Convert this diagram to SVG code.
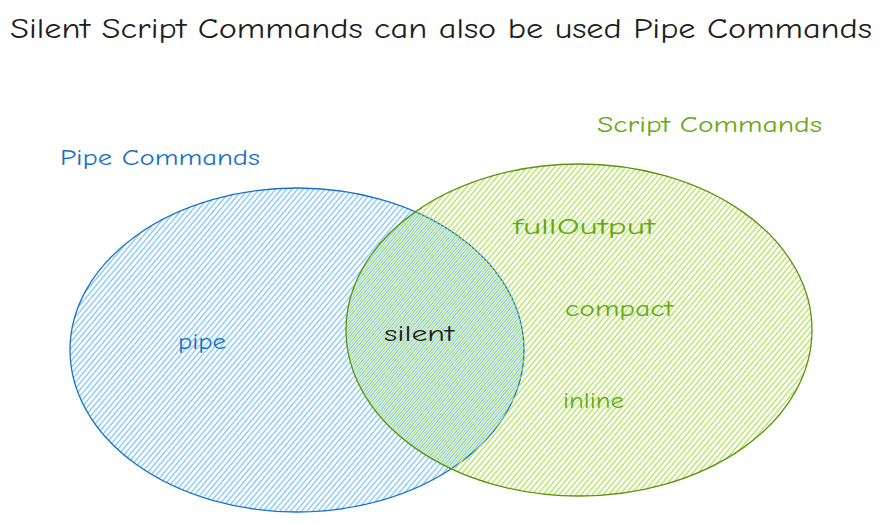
<svg xmlns="http://www.w3.org/2000/svg" width="883" height="523" viewBox="0 0 883 523">
<defs>
<pattern id="hBlue" width="4.2" height="10" patternUnits="userSpaceOnUse" patternTransform="rotate(40)">
<line x1="1" y1="0" x2="1" y2="10" stroke="#74c0fc" stroke-width="1.2"/>
</pattern>
<pattern id="hGreen" width="4.2" height="10" patternUnits="userSpaceOnUse" patternTransform="rotate(40) translate(2.1 0)">
<line x1="1" y1="0" x2="1" y2="10" stroke="#a9e34b" stroke-width="1.2"/>
</pattern>
</defs>
<style>
text{font-family:"Comic Neue","Liberation Sans","DejaVu Sans",sans-serif;}
.t{font-size:28px;fill:#1e1e1e;}
.lb{font-size:22px;fill:#1971c2;}
.lg{font-size:22px;fill:#66a80f;}
.k{font-size:22px;fill:#1e1e1e;}
</style>
<rect width="883" height="523" fill="#ffffff"/>
<g id="title"><text class="t" x="10" y="38" textLength="862" lengthAdjust="spacingAndGlyphs">Silent Script Commands can also be used Pipe Commands</text></g>
<g id="pipe-set">
<ellipse cx="297" cy="350" rx="227" ry="162" fill="url(#hBlue)" stroke="#1971c2" stroke-width="1.3"/>
<text class="lb" x="60" y="165" textLength="200" lengthAdjust="spacingAndGlyphs">Pipe Commands</text>
<text class="lb" x="178" y="349" textLength="48" lengthAdjust="spacingAndGlyphs">pipe</text>
</g>
<g id="script-set">
<ellipse cx="579" cy="330" rx="233" ry="166" fill="url(#hGreen)" stroke="#5c940d" stroke-width="1.3"/>
<text class="lg" x="597" y="132" textLength="225" lengthAdjust="spacingAndGlyphs">Script Commands</text>
<text class="lg" x="513" y="234" textLength="142" lengthAdjust="spacingAndGlyphs">fullOutput</text>
<text class="lg" x="565" y="316" textLength="108" lengthAdjust="spacingAndGlyphs">compact</text>
<text class="lg" x="563" y="408" textLength="61" lengthAdjust="spacingAndGlyphs">inline</text>
</g>
<g id="silent"><text class="k" x="384" y="341" textLength="70" lengthAdjust="spacingAndGlyphs">silent</text></g>
<g id="connectors"></g>
</svg>
